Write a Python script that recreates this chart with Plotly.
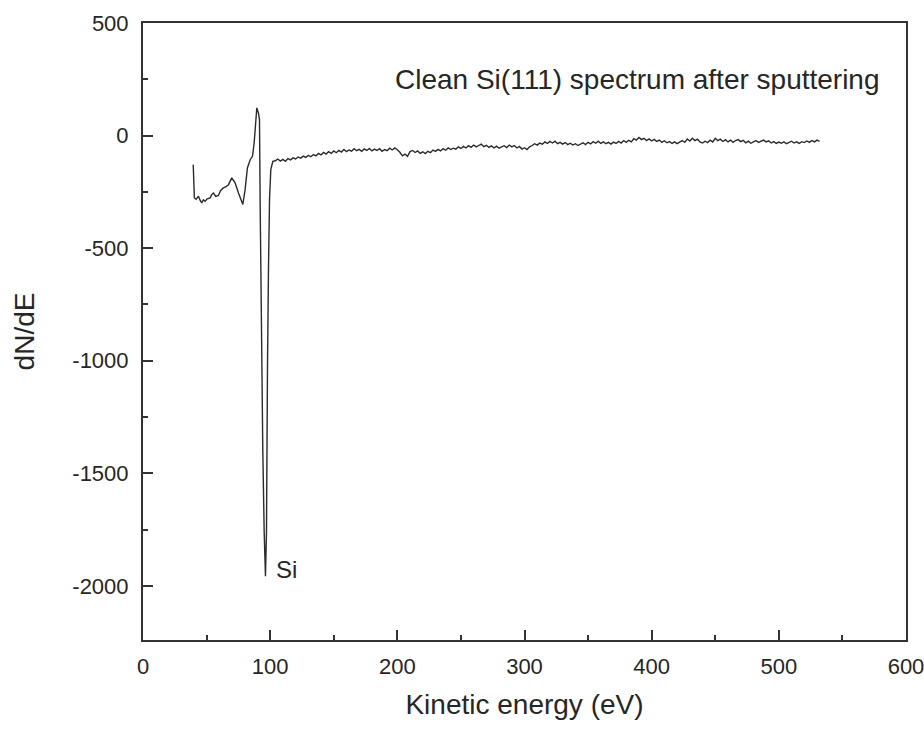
import plotly.graph_objects as go

# Peak region (Si LVV Auger feature), eV and dN/dE
peak_energy = [39.5, 40.4, 41.8, 43.6, 45.0, 46.2, 47.5, 48.8, 50.5, 52.8, 54.0, 55.4, 57.2,
               59.3, 61.0, 63.2, 65.0, 67.2, 69.8, 72.4, 75.1, 78.5, 80.3, 82.1, 84.3,
               86.1, 87.4, 88.7, 89.5, 90.8, 91.6, 92.1, 92.7, 93.4, 94.2, 95.3, 96.3,
               97.1, 97.4, 97.9, 98.7, 99.5, 100.5, 102.1]
peak_signal = [-129, -277, -283, -269, -288, -299, -285, -292, -281, -277, -262, -255, -270,
               -266, -245, -232, -228, -218, -188, -210, -255, -306, -240, -144, -107,
               -92, -33, 49, 123, 100, 71, -284, -653, -1024, -1394, -1763, -1957,
               -1763, -1319, -1024, -580, -284, -151, -114]

# Baseline region, 2 eV steps from 104 to 532 eV
baseline_energy = list(range(104, 533, 2))
baseline_signal = [
    -112, -104, -113, -106, -114, -102, -108, -99, -104, -95,
    -100, -91, -97, -88, -94, -84, -90, -79, -86, -75,
    -82, -71, -79, -68, -76, -66, -73, -62, -71, -64,
    -69, -58, -67, -61, -70, -59, -66, -57, -68, -60,
    -66, -58, -70, -62, -67, -56, -64, -55, -63, -74,
    -90, -82, -92, -71, -66, -75, -68, -79, -72, -80,
    -70, -76, -64, -70, -61, -68, -58, -65, -55, -62,
    -56, -60, -50, -57, -48, -55, -45, -52, -42, -50,
    -44, -38, -49, -43, -52, -46, -55, -47, -56, -49,
    -45, -53, -42, -50, -44, -55, -48, -60, -54, -62,
    -50, -44, -36, -42, -33, -38, -28, -35, -26, -33,
    -25, -36, -30, -38, -31, -40, -34, -42, -36, -44,
    -38, -32, -40, -30, -37, -27, -34, -25, -35, -28,
    -36, -30, -38, -29, -35, -26, -33, -22, -30, -21,
    -28, -14, -20, -8, -18, -12, -22, -15, -24, -17,
    -26, -20, -30, -23, -32, -27, -35, -28, -36, -29,
    -22, -30, -15, -24, -12, -22, -16, -28, -33, -25,
    -31, -20, -28, -12, -22, -16, -26, -18, -28, -20,
    -30, -22, -18, -27, -21, -32, -25, -34, -26, -22,
    -30, -24, -20, -28, -23, -33, -27, -35, -29, -34,
    -28, -36, -30, -25, -33, -28, -35, -27, -31, -24,
    -30, -22, -28, -20, -26,
]

energy = peak_energy + baseline_energy
signal = peak_signal + baseline_signal

x_ticks = [0, 100, 200, 300, 400, 500, 600]
y_ticks = [500, 0, -500, -1000, -1500, -2000]

FONT = "Liberation Sans, Arial, sans-serif"
TXT = "#262626"
AX = "#333333"

fig = go.Figure()
fig.add_trace(go.Scatter(x=energy, y=signal, mode="lines",
                         line=dict(color="#2a2a2a", width=1.4), showlegend=False))

fig.add_annotation(x=389, y=249, xref="x", yref="y", text="Clean Si(111) spectrum after sputtering",
                   showarrow=False, font=dict(family=FONT, size=28, color=TXT))
fig.add_annotation(x=112.6, y=-1927, xref="x", yref="y", text="Si",
                   showarrow=False, font=dict(family=FONT, size=24, color=TXT))

fig.update_layout(
    width=924, height=731,
    margin=dict(l=143, r=18, t=23, b=91, autoexpand=False),
    paper_bgcolor="white", plot_bgcolor="white",
    font=dict(family=FONT, color=TXT),
)
fig.update_xaxes(
    range=[0, 600], tickvals=x_ticks, ticktext=[str(v) for v in x_ticks],
    showgrid=False, zeroline=False, automargin=False, ticklabeloverflow="allow",
    showline=True, linecolor=AX, linewidth=2, mirror=True,
    ticks="inside", ticklen=10, tickwidth=2, tickcolor=AX,
    minor=dict(tickvals=[50, 150, 250, 350, 450, 550], ticks="inside", ticklen=5, tickwidth=1.5, tickcolor=AX),
    tickfont=dict(family=FONT, size=22, color=TXT), ticklabelstandoff=6,
    title=dict(text="Kinetic energy (eV)", font=dict(family=FONT, size=28, color=TXT), standoff=16),
)
fig.update_yaxes(
    range=[-2240, 500], tickvals=y_ticks, ticktext=[str(v) for v in y_ticks],
    showgrid=False, zeroline=False, automargin=False, ticklabeloverflow="allow",
    showline=True, linecolor=AX, linewidth=2, mirror=True,
    ticks="inside", ticklen=10, tickwidth=2, tickcolor=AX,
    minor=dict(tickvals=[250, -250, -750, -1250, -1750], ticks="inside", ticklen=5, tickwidth=1.5, tickcolor=AX),
    tickfont=dict(family=FONT, size=22, color=TXT), ticklabelstandoff=8,
    title=dict(text="dN/dE", font=dict(family=FONT, size=28, color=TXT), standoff=30),
)

fig.write_html("out.html")
